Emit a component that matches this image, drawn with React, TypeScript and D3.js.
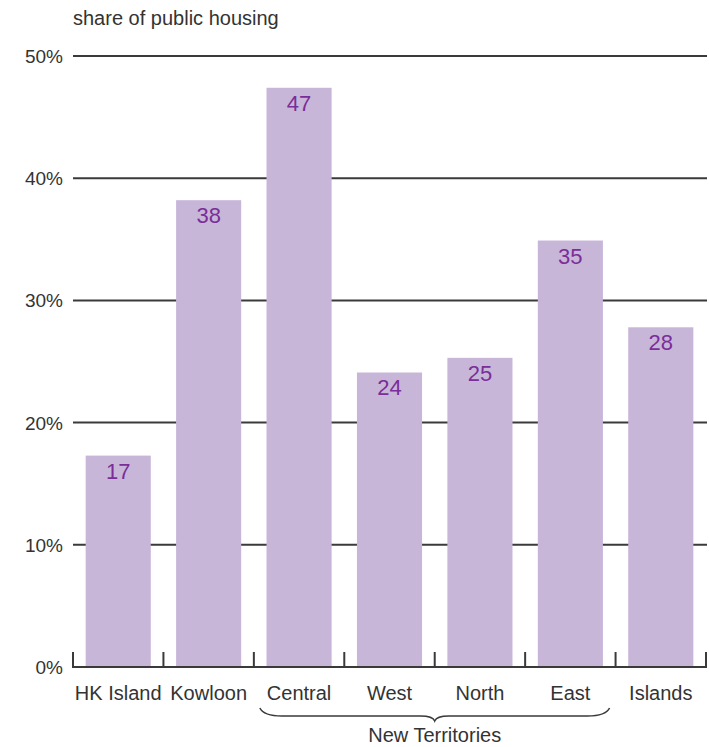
import { useEffect, useRef } from "react";
import * as d3 from "d3";

const categories = ["HK Island", "Kowloon", "Central", "West", "North", "East", "Islands"];
const shares = [17.3, 38.2, 47.4, 24.1, 25.3, 34.9, 27.8];
const shareLabels = ["17", "38", "47", "24", "25", "35", "28"];
const yTicks = [0, 10, 20, 30, 40, 50];
const groupName = "New Territories";
const groupMembers = ["Central", "West", "North", "East"];

const FONT = "'Liberation Sans', Arial, Helvetica, sans-serif";

export default function App() {
  const svgRef = useRef<SVGSVGElement | null>(null);

  useEffect(() => {
    if (!svgRef.current) return;
    const svg = d3.select(svgRef.current);
    svg.selectAll("*").remove();

    const x = d3.scaleBand().domain(categories).range([73, 706]).paddingInner(0.28).paddingOuter(0.14);
    const y = d3.scaleLinear().domain([0, 50]).range([667, 56]);
    const step = x.step();
    const bandStart = (c: string) => x(c)! - (step - x.bandwidth()) / 2;

    svg
      .append("text")
      .attr("x", 73)
      .attr("y", 25)
      .attr("font-family", FONT)
      .attr("font-size", 20)
      .attr("fill", "#333")
      .text("share of public housing");

    // gridlines (drawn under the bars)
    svg
      .selectAll(".grid")
      .data(yTicks.filter((t) => t > 0))
      .enter()
      .append("line")
      .attr("x1", 73)
      .attr("x2", 707)
      .attr("y1", (d) => y(d))
      .attr("y2", (d) => y(d))
      .attr("stroke", "#3a3a3a")
      .attr("stroke-width", 2);

    svg
      .selectAll(".ylab")
      .data(yTicks)
      .enter()
      .append("text")
      .attr("x", 63)
      .attr("y", (d) => y(d) + 7)
      .attr("text-anchor", "end")
      .attr("font-family", FONT)
      .attr("font-size", 19)
      .attr("fill", "#333")
      .text((d) => `${d}%`);

    // bars
    svg
      .selectAll(".bar")
      .data(categories)
      .enter()
      .append("rect")
      .attr("x", (d) => x(d)!)
      .attr("y", (d, i) => y(shares[i]))
      .attr("width", x.bandwidth())
      .attr("height", (d, i) => y(0) - y(shares[i]))
      .attr("fill", "#c8b6d9");

    svg
      .selectAll(".val")
      .data(categories)
      .enter()
      .append("text")
      .attr("x", (d) => x(d)! + x.bandwidth() / 2)
      .attr("y", (d, i) => y(shares[i]) + 23)
      .attr("text-anchor", "middle")
      .attr("font-family", FONT)
      .attr("font-size", 22)
      .attr("fill", "#7a2e98")
      .text((d, i) => shareLabels[i]);

    // baseline + tick marks at band boundaries
    svg
      .append("line")
      .attr("x1", 73)
      .attr("x2", 707)
      .attr("y1", y(0))
      .attr("y2", y(0))
      .attr("stroke", "#3a3a3a")
      .attr("stroke-width", 2);
    const boundaries = categories.map(bandStart).concat([bandStart(categories[categories.length - 1]) + step]);
    svg
      .selectAll(".tick")
      .data(boundaries)
      .enter()
      .append("line")
      .attr("x1", (d) => d)
      .attr("x2", (d) => d)
      .attr("y1", y(0) + 1)
      .attr("y2", y(0) - 15)
      .attr("stroke", "#3a3a3a")
      .attr("stroke-width", 2);

    svg
      .selectAll(".xlab")
      .data(categories)
      .enter()
      .append("text")
      .attr("x", (d) => x(d)! + x.bandwidth() / 2)
      .attr("y", 700)
      .attr("text-anchor", "middle")
      .attr("font-family", FONT)
      .attr("font-size", 20)
      .attr("fill", "#333")
      .text((d) => d);

    // brace under the New Territories group
    const bx0 = bandStart(groupMembers[0]) + 6;
    const bx1 = bandStart(groupMembers[groupMembers.length - 1]) + step - 6;
    const bm = (bx0 + bx1) / 2;
    const top = 708;
    const mid = 716;
    const tip = 721;
    const brace = d3.path();
    brace.moveTo(bx0, top);
    brace.quadraticCurveTo(bx0 + 4, mid, bx0 + 22, mid);
    brace.lineTo(bm - 14, mid);
    brace.quadraticCurveTo(bm - 2, mid, bm, tip);
    brace.quadraticCurveTo(bm + 2, mid, bm + 14, mid);
    brace.lineTo(bx1 - 22, mid);
    brace.quadraticCurveTo(bx1 - 4, mid, bx1, top);
    svg
      .append("path")
      .attr("d", brace.toString())
      .attr("fill", "none")
      .attr("stroke", "#3a3a3a")
      .attr("stroke-width", 1.5);

    svg
      .append("text")
      .attr("x", bm)
      .attr("y", 742)
      .attr("text-anchor", "middle")
      .attr("font-family", FONT)
      .attr("font-size", 20)
      .attr("fill", "#333")
      .text(groupName);
  }, []);

  return (
    <svg
      ref={svgRef}
      width={709}
      height={747}
      style={{ position: "absolute", left: 0, top: 0, background: "#fff" }}
    />
  );
}
